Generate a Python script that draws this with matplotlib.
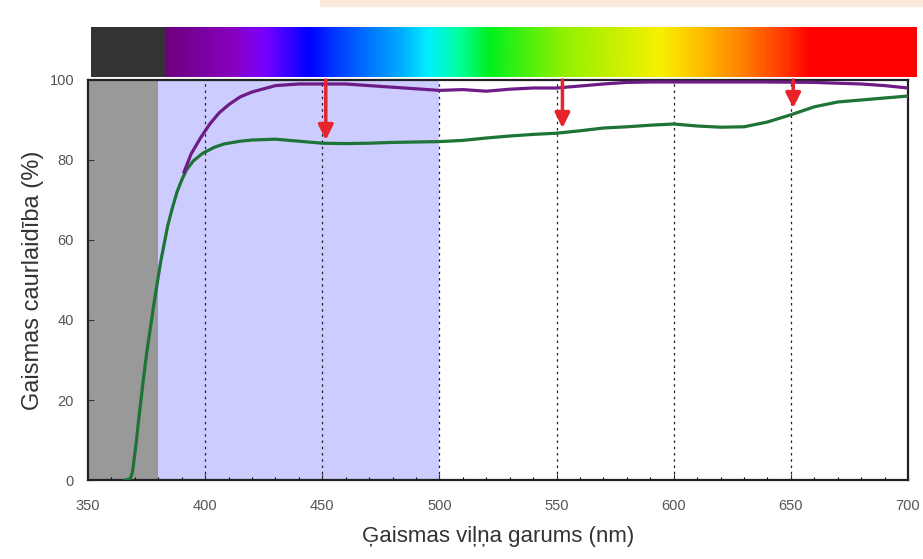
import numpy as np
import matplotlib
matplotlib.use("Agg")
from matplotlib import pyplot as plt
from matplotlib.colors import LinearSegmentedColormap
from matplotlib.patches import Rectangle

plt.rcParams['font.family'] = ['Liberation Sans', 'DejaVu Sans']

# wavelength (nm) and transmittance (%)
green_nm = [366, 368, 369, 370.5, 372, 373.5, 375, 376.5, 378, 379.5, 381, 382.5, 384,
            386, 388, 390, 392, 395, 399, 404, 408, 415, 420, 430, 440, 450, 460,
            470, 480, 490, 500, 510, 520, 530, 540, 550, 560, 570, 580, 590, 600,
            610, 620, 630, 640, 650, 660, 670, 680, 690, 700]
green_val = [0, 0.3, 2, 9, 17, 24.5, 31.5, 37.5, 43.5, 49, 54.5, 59, 63.5, 68, 72,
             75, 77.5, 79.8, 81.7, 83.2, 84, 84.7, 85, 85.2, 84.7, 84.2, 84.1, 84.2,
             84.4, 84.5, 84.6, 84.9, 85.5, 86, 86.4, 86.7, 87.3, 88, 88.3, 88.7, 89,
             88.5, 88.2, 88.3, 89.5, 91.3, 93.3, 94.5, 95, 95.5, 96]

purple_nm = [391, 394, 398, 402, 406, 410, 415, 420, 430, 440, 450, 460, 470,
             480, 490, 500, 510, 520, 530, 540, 550, 560, 570, 580, 590, 600, 620,
             640, 660, 680, 690, 700]
purple_val = [77, 81.5, 85.5, 89, 91.8, 93.8, 95.8, 97, 98.6, 99, 99, 99, 98.6,
              98.2, 97.8, 97.4, 97.6, 97.2, 97.7, 98, 98, 98.5, 99, 99.4, 99.5, 99.5,
              99.5, 99.5, 99.4, 99, 98.6, 98]

# arrows: wavelength, start (%), end (%)
arrow_nm = [451.5, 552.5, 651]
arrow_top = [100, 100, 100]
arrow_end = [85, 88, 93]

grid_nm = [400, 450, 500, 550, 600, 650]

# spectrum bar colours (position along the coloured part, 0..1)
spec_pos = [0.0, 0.09, 0.13, 0.19, 0.23, 0.31, 0.35, 0.39, 0.43, 0.53, 0.66, 0.71,
            0.77, 0.83, 0.86, 1.0]
spec_col = ['#6e0080', '#8800c0', '#7a00ff', '#0000ff', '#0040ff', '#00a8ff',
            '#00f0ff', '#00ffa0', '#00f020', '#90f000', '#f8f000', '#ffc000',
            '#ff8000', '#ff3000', '#ff0000', '#ff0000']

W, H = 923, 559
fig = plt.figure(figsize=(W / 100, H / 100), dpi=100)
fig.patches.append(Rectangle((320 / W, 1 - 6 / H), 1, 6 / H,
                             transform=fig.transFigure, color='#fbe8da', zorder=0))

ax = fig.add_axes([88 / W, 1 - 480 / H, (908 - 88) / W, 400 / H])
ax.axvspan(350, 380, color='#999999', lw=0, zorder=0)
ax.axvspan(380, 500, color='#ccccff', lw=0, zorder=0)

for g in grid_nm:
    ax.plot([g, g], [0, 100], ls=(0, (2, 3)), color='#222222', lw=0.9, zorder=1)

ax.plot(green_nm, green_val, color='#1d7436', lw=2.3, zorder=3)
ax.plot(purple_nm, purple_val, color='#6d1b86', lw=2.3, zorder=3)

for xa, y0, y1 in zip(arrow_nm, arrow_top, arrow_end):
    ax.annotate('', xy=(xa, y1), xytext=(xa, y0),
                arrowprops=dict(arrowstyle='-|>,head_width=0.45,head_length=0.9',
                                color='#e8232a', lw=2.5, shrinkA=0, shrinkB=0),
                zorder=4)

ax.set_xlim(350, 700)
ax.set_ylim(0, 100)
ax.set_xticks(np.arange(350, 701, 50))
ax.set_xticks(np.arange(350, 701, 10), minor=True)
ax.set_yticks(np.arange(0, 101, 20))
ax.tick_params(axis='both', direction='in', labelsize=10.5, labelcolor='#555555',
               length=4, width=0.8, color='#333333')
ax.tick_params(axis='x', which='minor', direction='in', length=2.5, width=0.8)
ax.tick_params(axis='x', pad=14)
ax.tick_params(axis='y', pad=10)
for s in ax.spines.values():
    s.set_linewidth(1.6)
    s.set_color('#222222')
ax.set_xlabel('Ģaismas viļņa garums (nm)', fontsize=16, color='#333333', labelpad=9)
ax.set_ylabel('Gaismas caurlaidība (%)', fontsize=17, color='#333333', labelpad=4)

# spectrum bar on top
bx0, bx1 = 91, 917
bar = fig.add_axes([bx0 / W, 1 - 77 / H, (bx1 - bx0) / W, 50 / H])
nm_per_px = 350 / (908 - 88)
lo = 350 + (bx0 - 88) * nm_per_px
hi = 350 + (bx1 - 88) * nm_per_px
dark_end = 350 + (165 - 88) * nm_per_px
cmap = LinearSegmentedColormap.from_list('spec', list(zip(spec_pos, spec_col)))
bar.imshow(np.linspace(0, 1, 600)[None, :], cmap=cmap, aspect='auto',
           extent=[dark_end, hi, 0, 1])
bar.axvspan(lo, dark_end, color='#333333', lw=0)
bar.set_xlim(lo, hi)
bar.set_ylim(0, 1)
bar.axis('off')

fig.savefig('out.png', dpi=100)
